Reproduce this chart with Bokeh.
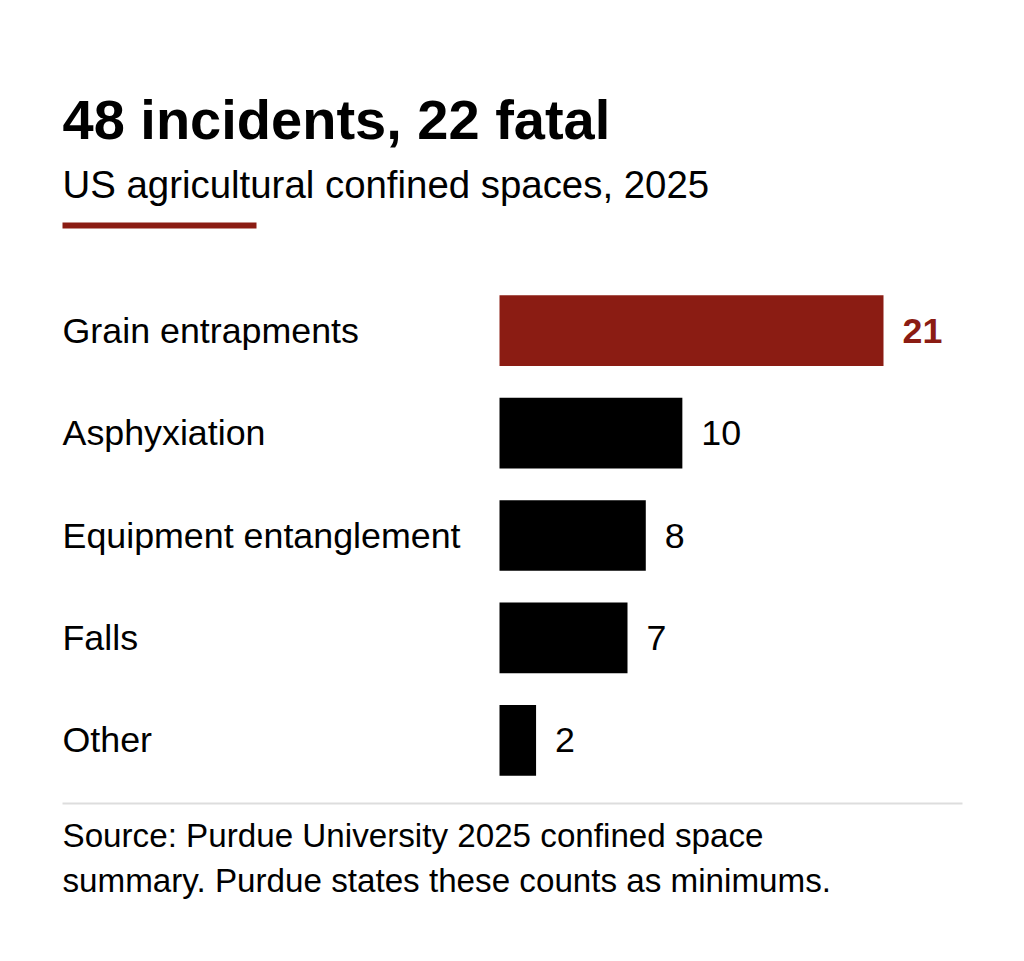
from bokeh.plotting import figure
from bokeh.models import Range1d, FactorRange, ColumnDataSource, LabelSet, Label, BoxAnnotation
from bokeh.layouts import column
from bokeh.embed import file_html
from bokeh.resources import INLINE
from bokeh.core.properties import value

# ---- data ----
categories = ["Grain entrapments", "Asphyxiation", "Equipment entanglement", "Falls", "Other"]
counts = [21, 10, 8, 7, 2]
highlight = ["Grain entrapments"]

title_text = "48 incidents, 22 fatal"
subtitle_text = "US agricultural confined spaces, 2025"
source_lines = ["Source: Purdue University 2025 confined space",
                "summary. Purdue states these counts as minimums."]

RED = "#8b1c13"
FONT = "Liberation Sans"
W = 1008
H_HEAD, H_BARS, H_FOOT = 279, 512, 154


def blank(height, x_range, y_range):
    p = figure(width=W, height=height, x_range=x_range, y_range=y_range,
               output_backend="svg", toolbar_location=None, min_border=0,
               tools="")
    p.axis.visible = False
    p.grid.visible = False
    p.outline_line_color = None
    p.background_fill_color = "white"
    p.border_fill_color = "white"
    return p


# ---- header ----
head = blank(H_HEAD, Range1d(0, W), Range1d(0, H_HEAD))
head.add_layout(Label(x=62, y=H_HEAD - 119, text=title_text, text_font=FONT,
                      text_font_size="56px", text_font_style="bold",
                      text_color="#000000", text_baseline="alphabetic"))
head.add_layout(Label(x=62, y=H_HEAD - 184, text=subtitle_text, text_font=FONT,
                      text_font_size="38.4px", text_color="#000000",
                      text_baseline="alphabetic"))
head.add_layout(BoxAnnotation(left=62, right=256, bottom=H_HEAD - 228, top=H_HEAD - 222,
                              fill_color=RED, fill_alpha=1, line_color=None))

# ---- bars ----
px_per_unit = 384 / 21
x0 = 499
bars = blank(H_BARS,
             Range1d(-x0 / px_per_unit, (W - x0) / px_per_unit),
             FactorRange(factors=categories[::-1], range_padding=0))
colors = [RED if c in highlight else "#000000" for c in categories]
styles = ["bold" if c in highlight else "normal" for c in categories]
src = ColumnDataSource(dict(cat=categories, val=counts, color=colors,
                            style=styles, txt=[str(v) for v in counts]))
bars.hbar(y="cat", right="val", left=0, height=0.69, source=src,
          fill_color="color", line_color=None)
bars.add_layout(LabelSet(x=62, x_units="screen", y="cat", text="cat", source=src,
                         text_font=value(FONT), text_font_size=value("35.8px"),
                         text_color=value("#000000"), text_baseline=value("middle")))
bars.add_layout(LabelSet(x="val", y="cat", text="txt", source=src, x_offset=19,
                         text_font=value(FONT), text_font_size=value("35.8px"),
                         text_color="color", text_font_style="style",
                         text_baseline=value("middle")))

# ---- footer ----
foot = blank(H_FOOT, Range1d(0, W), Range1d(0, H_FOOT))
foot.segment(x0=[62], x1=[962], y0=[H_FOOT - 12], y1=[H_FOOT - 12],
             line_color="#dddddd", line_width=2)
for i, line in enumerate(source_lines):
    foot.add_layout(Label(x=62, y=H_FOOT - 44 - 45 * i, text=line, text_font=FONT,
                          text_font_size="33.2px", text_color="#000000",
                          text_baseline="alphabetic"))

page = column(head, bars, foot, spacing=0)
open("out.html", "w").write(file_html(page, INLINE))
